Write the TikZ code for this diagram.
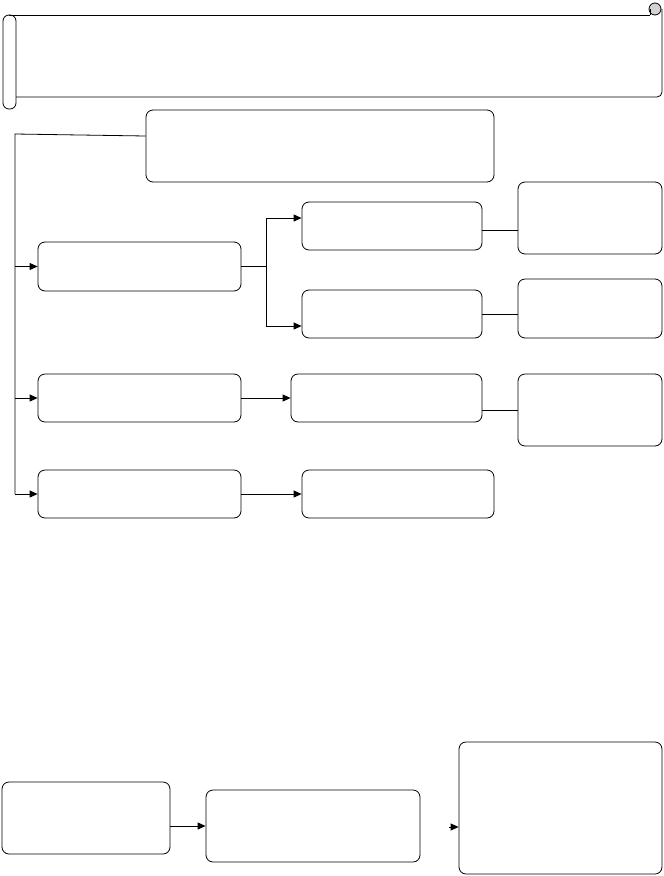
\documentclass[tikz,border=0pt]{standalone}
\usepackage{tikz}
\usetikzlibrary{arrows.meta, positioning, calc}

\begin{document}
\begin{tikzpicture}[
    x=1pt, y=-1pt,
    box/.style={draw, rounded corners=7pt, line width=0.8pt, inner sep=0pt, minimum width=#1},
    box/.default=203pt,
    arrow/.style={-{Triangle[length=8pt, width=7pt]}, line width=0.8pt},
    link/.style={line width=0.8pt}
]
    \useasboundingbox (0,0) rectangle (664,876);

    % scroll banner
    \draw[link, fill=gray!35] (655,9) circle (6pt);
    \draw[link] (650,15) -- (650,9);
    \draw[link, rounded corners=5pt] (9,15) -- (650,15);
    \draw[link, rounded corners=5pt] (662,9) -- (662,97) -- (16,97);
    \draw[link, rounded corners=6pt] (3,15) rectangle (16,109);

    % boxes
    \node[box=348pt, minimum height=72pt] (intro) at (320,146) {};
    \node[box, minimum height=49pt] (left1) at (139.5,266.5) {};
    \node[box=180pt, minimum height=48pt] (up1) at (392,226) {};
    \node[box=180pt, minimum height=48pt] (down1) at (392,314) {};
    \node[box=144pt, minimum height=72pt] (note1) at (590,218) {};
    \node[box=144pt, minimum height=59pt] (note2) at (590,308.5) {};
    \node[box, minimum height=48pt] (left2) at (139.5,398) {};
    \node[box=191pt, minimum height=48pt] (mid2) at (386.5,398) {};
    \node[box=144pt, minimum height=72pt] (note3) at (590,410) {};
    \node[box, minimum height=48pt] (left3) at (139.5,494) {};
    \node[box=192pt, minimum height=48pt] (mid3) at (398,494) {};

    \node[box=168pt, minimum height=72pt] (start) at (86,818) {};
    \node[box=214pt, minimum height=72pt] (middle) at (313,826) {};
    \node[box=203pt, minimum height=132pt] (final) at (560.5,808) {};

    % trunk on the left
    \coordinate (trunk) at (15,134);
    \coordinate (split) at (266.5,266.5);
    \draw[link] ([yshift=10pt]intro.west) -- (trunk) -- (trunk |- left3.west);
    \draw[arrow] (trunk |- left1.west) -- (left1.west);
    \draw[arrow] (trunk |- left2.west) -- (left2.west);
    \draw[arrow] (trunk |- left3.west) -- (left3.west);

    % branches
    \draw[link] (left1.east) -- (split);
    \draw[arrow] (split) |- ([yshift=8pt]up1.west);
    \draw[arrow] (split) |- ([yshift=-12pt]down1.west);
    \draw[link] ([yshift=-4pt]up1.east) -- ([yshift=-4pt]up1.east -| note1.west);
    \draw[link] (down1.east) -- (down1.east -| note2.west);
    \draw[arrow] (left2.east) -- (mid2.west);
    \draw[link] (note3.west -| mid2.east) -- (note3.west);
    \draw[arrow] (left3.east) -- (mid3.west);

    % bottom row
    \coordinate (entry) at (449,827);
    \draw[arrow] (start.east |- middle.west) -- (middle.west);
    \draw[arrow] (entry) -- (entry -| final.west);
\end{tikzpicture}
\end{document}
